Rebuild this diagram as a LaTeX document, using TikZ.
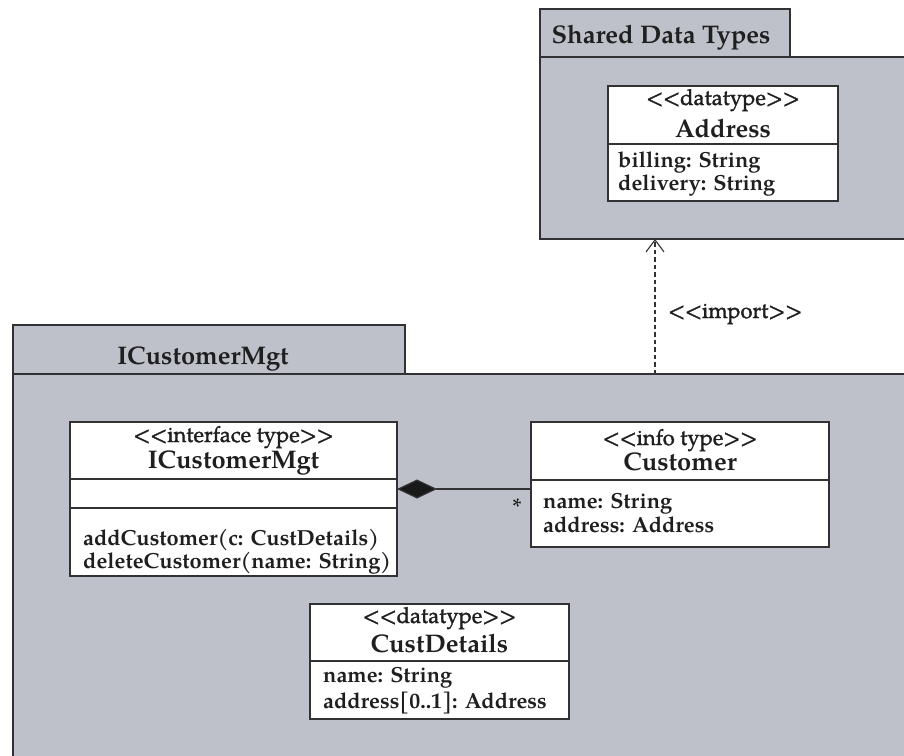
\documentclass[tikz,border=0pt]{standalone}
\usepackage{fontspec}
\setmainfont{TeX Gyre Pagella}
\newfontfamily\stereofont{TeX Gyre Pagella}[FakeBold=1.4]
\usetikzlibrary{arrows.meta}
\definecolor{pkgfill}{RGB}{191,193,202}
\definecolor{edge}{RGB}{50,50,52}
% guillemet-free stereotype brackets
\newcommand\sopen{<\kern0pt<}
\newcommand\sclose{>\kern0pt>}
\begin{document}
\begin{tikzpicture}[x=1pt,y=-1pt,
  pkg/.style={draw=edge, fill=pkgfill, line width=1.6pt, inner sep=0pt, outer sep=0pt, anchor=north west},
  comp/.style={draw=edge, fill=white, line width=1.3pt, inner sep=0pt, outer sep=0pt, anchor=north west},
  title/.style={font=\fontsize{25.5}{30}\selectfont\bfseries, text=black!88, inner sep=0pt, anchor=base},
  cname/.style={font=\fontsize{25.5}{30}\selectfont\bfseries, text=black!88, inner sep=0pt, anchor=base},
  stereo/.style={font=\stereofont\fontsize{22}{26}\selectfont, text=black!88, inner sep=0pt, anchor=base},
  member/.style={font=\fontsize{21.8}{26}\selectfont\bfseries, text=black!88, inner sep=0pt, anchor=base west},
  dep/.style={draw=edge, line width=1.1pt, dash pattern=on 4.5pt off 3pt, -{Straight Barb[length=12pt,width=18pt,line width=1.1pt]}},
  compo/.style={draw=edge, line width=1.2pt, {Diamond[length=40pt,width=19pt,fill=black!90]}-},
]
\clip (0,0) rectangle (904,755);

% package: Shared Data Types
\node[pkg, minimum width=380pt, minimum height=182pt] (sdtBody) at (540,57) {};
\node[pkg, minimum width=250pt, minimum height=48pt] (sdtTab) at (540,9) {};
\node[title] (sdtTitle) at (661,43) {Shared Data Types};

% class: Address
\node[comp, minimum width=230pt, minimum height=58pt] (addrHead) at (608,86) {};
\node[comp, minimum width=230pt, minimum height=57pt] (addrAttr) at (608,144) {};
\node[stereo] (addrSt) at (723,105) {\sopen datatype\sclose};
\node[cname] (addrName) at (723,137) {Address};
\node[member] (addrA1) at (618,167) {billing: String};
\node[member] (addrA2) at (618,190) {delivery: String};

% package: ICustomerMgt
\node[pkg, minimum width=910pt, minimum height=400pt] (icmBody) at (13,374) {};
\node[pkg, minimum width=392pt, minimum height=49pt] (icmTab) at (13,325) {};
\node[title] (icmTitle) at (203,364) {ICustomerMgt};

% class: ICustomerMgt
\node[comp, minimum width=327pt, minimum height=57pt] (icmHead) at (70,422) {};
\node[comp, minimum width=327pt, minimum height=29pt] (icmMid) at (70,479) {};
\node[comp, minimum width=327pt, minimum height=68pt] (icmOps) at (70,508) {};
\node[stereo] (icmSt) at (233.5,442) {\sopen interface type\sclose};
\node[cname] (icmName) at (233.5,468) {ICustomerMgt};
\node[member] (icmOp1) at (83,545) {addCustomer(c: CustDetails)};
\node[member] (icmOp2) at (83,568) {deleteCustomer(name: String)};

% class: Customer
\node[comp, minimum width=298pt, minimum height=58pt] (custHead) at (531,422) {};
\node[comp, minimum width=298pt, minimum height=67pt] (custAttr) at (531,480) {};
\node[stereo] (custSt) at (680,445) {\sopen info type\sclose};
\node[cname] (custName) at (680,470) {Customer};
\node[member] (custA1) at (543,508) {name: String};
\node[member] (custA2) at (543,532) {address: Address};

% class: CustDetails
\node[comp, minimum width=259pt, minimum height=57pt] (cdHead) at (310,604) {};
\node[comp, minimum width=259pt, minimum height=58pt] (cdAttr) at (310,661) {};
\node[stereo] (cdSt) at (439.5,623) {\sopen datatype\sclose};
\node[cname] (cdName) at (439.5,652) {CustDetails};
\node[member] (cdA1) at (323,682) {name: String};
\node[member] (cdA2) at (323,708) {address[0..1]: Address};

% composition ICustomerMgt <>-- Customer
\draw[compo] ([yshift=4.5pt]icmMid.east) -- ([yshift=4.5pt]icmMid.east -| custAttr.west);
\node[font=\fontsize{24}{28}\selectfont, text=black!88, inner sep=0pt] (mult) at (517,507) {*};

% import dependency
\coordinate (impX) at (655,0);
\draw[dep] (icmBody.north -| impX) -- (sdtBody.south -| impX);
\node[stereo, anchor=base west] (impLbl) at (668,318) {\sopen import\sclose};
\end{tikzpicture}
\end{document}
